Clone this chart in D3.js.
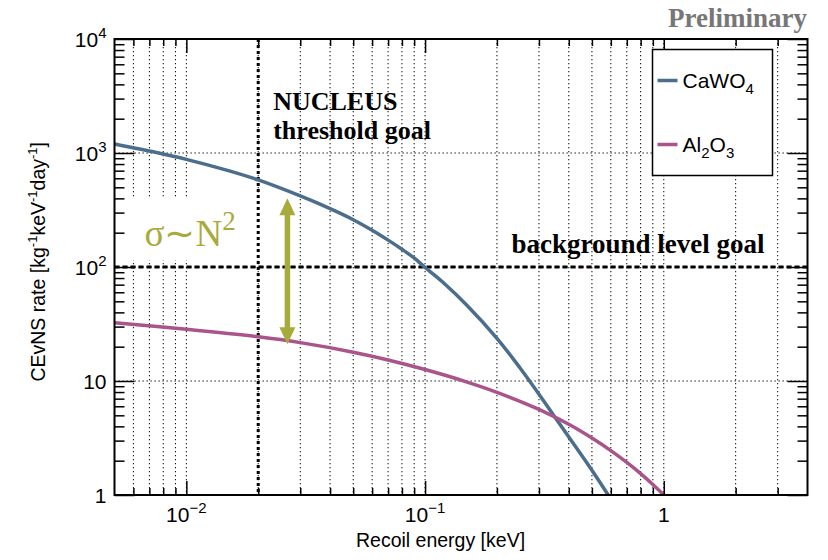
<!DOCTYPE html>
<html>
<head>
<meta charset="utf-8">
<script src="https://cdn.jsdelivr.net/npm/d3@7"></script>
<style>
  body { margin: 0; background: #fff; }
  svg { display: block; }
  .sans { font-family: "Liberation Sans", Arial, Helvetica, sans-serif; }
  .serif { font-family: "Liberation Serif", "Times New Roman", serif; }
</style>
</head>
<body>
<div id="chart"></div>
<script>
// CEvNS rate vs recoil energy

const caEnergy = [0.005, 0.0075, 0.01, 0.015, 0.02, 0.03, 0.04, 0.05, 0.06, 0.07, 0.08, 0.09, 0.1, 0.12, 0.15, 0.2, 0.25, 0.3, 0.356, 0.4, 0.5, 0.585];
const caRate   = [1200, 1010, 880, 700, 580, 420, 325, 260, 210, 172, 143, 120, 99, 72, 46, 23.7, 13, 7.66, 4.58, 3.23, 1.65, 1];

const alEnergy = [0.005, 0.01, 0.02, 0.03, 0.05, 0.07, 0.1, 0.15, 0.2, 0.3, 0.4, 0.5, 0.6, 0.7, 0.8, 0.9, 1.0];
const alRate   = [32.4, 28.4, 24.4, 21.7, 17.9, 15.3, 12.6, 9.79, 7.96, 5.64, 4.17, 3.16, 2.45, 1.93, 1.54, 1.235, 1];

const thresholdGoal = 0.02;   // keV
const backgroundGoal = 100;   // counts / kg / keV / day
const arrowEnergy = 0.0265;
const arrowRange = [21, 400];

const xTicks = [{ v: 0.01, base: "10", exp: "\u22122" }, { v: 0.1, base: "10", exp: "\u22121" }, { v: 1, base: "1", exp: "" }];
const yTicks = [{ v: 1, base: "1", exp: "" }, { v: 10, base: "10", exp: "" }, { v: 100, base: "10", exp: "2" },
                { v: 1000, base: "10", exp: "3" }, { v: 10000, base: "10", exp: "4" }];

const series = [
    { name: "CaWO", sub: "4", x: caEnergy, y: caRate, color: "#4a6e8c" },
    { name: "Al", sub: "2", name2: "O", sub2: "3", x: alEnergy, y: alRate, color: "#a9548a" }
];

const W = 828, H = 560;
const margin = { top: 39, right: 20.5, bottom: 65, left: 114.5 };
const width = W - margin.left - margin.right;
const height = H - margin.top - margin.bottom;

const svg = d3.select("#chart").append("svg").attr("width", W).attr("height", H);
const g = svg.append("g").attr("transform", `translate(${margin.left},${margin.top})`);

const x = d3.scaleLog().domain([0.005, 4]).range([0, width]);
const y = d3.scaleLog().domain([1, 1e4]).range([height, 0]);

// minor / major tick positions
const xMinor = [], yMinor = [];
[0.001, 0.01, 0.1, 1].forEach(d => { for (let k = 2; k <= 9; k++) { const v = d * k; if (v > 0.005 && v < 4) xMinor.push(v); } });
[1, 10, 100, 1000].forEach(d => { for (let k = 2; k <= 9; k++) yMinor.push(d * k); });
const xMajor = xTicks.map(d => d.v);
const yMajor = yTicks.map(d => d.v);

// grid
const grid = g.append("g").attr("stroke", "#000").attr("stroke-width", 1).attr("stroke-dasharray", "1.3,2.7");
grid.selectAll(".gx").data(xMajor.concat(xMinor)).join("line")
    .attr("x1", d => x(d)).attr("x2", d => x(d)).attr("y1", 0).attr("y2", height);
grid.selectAll(".gy").data(yMajor.slice(1, -1)).join("line")
    .attr("x1", 0).attr("x2", width).attr("y1", d => y(d)).attr("y2", d => y(d));

// white pad behind the sigma label
g.append("rect").attr("x", 1).attr("y", 158).attr("width", 155).attr("height", 63).attr("fill", "#fff");

// goal lines
g.append("line").attr("x1", x(thresholdGoal)).attr("x2", x(thresholdGoal)).attr("y1", 0).attr("y2", height)
    .attr("stroke", "#000").attr("stroke-width", 3).attr("stroke-dasharray", "3,3");
g.append("line").attr("x1", 0).attr("x2", width).attr("y1", y(backgroundGoal)).attr("y2", y(backgroundGoal))
    .attr("stroke", "#000").attr("stroke-width", 3).attr("stroke-dasharray", "5,3");

// curves
g.append("clipPath").attr("id", "clip").append("rect").attr("width", width).attr("height", height);
const line = d3.line().x(d => x(d[0])).y(d => y(d[1])).curve(d3.curveCatmullRom.alpha(0.5));
series.forEach(s => {
    g.append("path").datum(s.x.map((v, i) => [v, s.y[i]]))
        .attr("clip-path", "url(#clip)")
        .attr("fill", "none").attr("stroke", s.color).attr("stroke-width", 3.5)
        .attr("d", line);
});

// double arrow
const olive = "#a7ab3b";
const ax = x(arrowEnergy), aTop = y(arrowRange[1]), aBot = y(arrowRange[0]);
const headH = 17, headW = 8;
g.append("line").attr("x1", ax).attr("x2", ax).attr("y1", aTop + headH - 2).attr("y2", aBot - headH + 2)
    .attr("stroke", olive).attr("stroke-width", 5.5);
g.append("path").attr("fill", olive)
    .attr("d", `M${ax},${aTop}L${ax + headW},${aTop + headH}L${ax - headW},${aTop + headH}Z`);
g.append("path").attr("fill", olive)
    .attr("d", `M${ax},${aBot}L${ax + headW},${aBot - headH}L${ax - headW},${aBot - headH}Z`);

// sigma label
const sig = g.append("text").attr("class", "serif").attr("x", 30).attr("y", 207)
    .attr("fill", olive).attr("font-size", 37);
sig.append("tspan").text("\u03c3\u223cN");
sig.append("tspan").attr("dy", -16).attr("font-size", 27).text("2");

// annotations
const ann = g.append("g").attr("class", "serif").attr("font-weight", "bold").attr("font-size", 26).attr("fill", "#000");
ann.append("text").attr("x", x(thresholdGoal) + 15).attr("y", 71).text("NUCLEUS");
ann.append("text").attr("x", x(thresholdGoal) + 15).attr("y", 100).text("threshold goal");
ann.append("text").attr("x", 397).attr("y", y(backgroundGoal) - 14).attr("font-size", 27).text("background level goal");

svg.append("text").attr("class", "serif").attr("font-weight", "bold").attr("font-size", 27)
    .attr("fill", "#777").attr("text-anchor", "end").attr("x", 807).attr("y", 26.5).text("Preliminary");

// axes (ticks only, ROOT style)
function ticks(axisFn, vals, size, transform) {
    g.append("g").attr("transform", transform)
        .call(axisFn.tickValues(vals).tickSize(size).tickFormat(""))
        .call(s => s.select(".domain").remove())
        .call(s => s.selectAll("line").attr("stroke", "#000").attr("stroke-width", 1.5));
}
ticks(d3.axisRight(y), yMajor, 20, "translate(0,0)");
ticks(d3.axisRight(y), yMinor, 10, "translate(0,0)");
ticks(d3.axisLeft(y), yMajor, 20, `translate(${width},0)`);
ticks(d3.axisLeft(y), yMinor, 10, `translate(${width},0)`);
ticks(d3.axisTop(x), xMajor, 14, `translate(0,${height})`);
ticks(d3.axisTop(x), xMinor, 7, `translate(0,${height})`);
ticks(d3.axisBottom(x), xMajor, 14, "translate(0,0)");
ticks(d3.axisBottom(x), xMinor, 7, "translate(0,0)");

g.append("rect").attr("width", width).attr("height", height)
    .attr("fill", "none").attr("stroke", "#000").attr("stroke-width", 2);

// tick labels
const ylab = g.append("g").attr("class", "sans").attr("font-size", 21).attr("fill", "#000");
yTicks.forEach(t => {
    const txt = ylab.append("text").attr("x", -8).attr("y", y(t.v) + 8).attr("text-anchor", "end");
    txt.append("tspan").text(t.base);
    if (t.exp) txt.append("tspan").attr("dy", -9).attr("font-size", 15).text(t.exp);
});
const xlab = g.append("g").attr("class", "sans").attr("font-size", 21).attr("fill", "#000");
xTicks.forEach(t => {
    const txt = xlab.append("text").attr("x", x(t.v)).attr("y", height + 27).attr("text-anchor", "middle");
    txt.append("tspan").text(t.base);
    if (t.exp) txt.append("tspan").attr("dy", -9).attr("font-size", 15).text(t.exp);
});

// axis titles
g.append("text").attr("class", "sans").attr("font-size", 19.5).attr("text-anchor", "end")
    .attr("x", x(0.1) + 100).attr("y", height + 52).text("Recoil energy [keV]");

const yt = g.append("text").attr("class", "sans").attr("font-size", 19.5).attr("text-anchor", "end")
    .attr("transform", `translate(${45 - margin.left},${142 - margin.top}) rotate(-90)`);
yt.append("tspan").text("CEvNS rate [kg");
yt.append("tspan").attr("dy", -8).attr("font-size", 13).text("-1");
yt.append("tspan").attr("dy", 8).text("keV");
yt.append("tspan").attr("dy", -8).attr("font-size", 13).text("-1");
yt.append("tspan").attr("dy", 8).text("day");
yt.append("tspan").attr("dy", -8).attr("font-size", 13).text("-1");
yt.append("tspan").attr("dy", 8).text("]");

// legend
const lg = svg.append("g").attr("transform", "translate(652.5,49.5)");
lg.append("rect").attr("width", 120).attr("height", 126).attr("fill", "#fff")
    .attr("stroke", "#000").attr("stroke-width", 1.5);
series.forEach((s, i) => {
    const yy = 31 + i * 64;
    lg.append("line").attr("x1", 5).attr("x2", 25).attr("y1", yy).attr("y2", yy)
        .attr("stroke", s.color).attr("stroke-width", 3.5);
    const t = lg.append("text").attr("class", "sans").attr("font-size", 21).attr("x", 30).attr("y", yy + 7.5);
    t.append("tspan").text(s.name);
    t.append("tspan").attr("dy", 6).attr("font-size", 15).text(s.sub);
    if (s.name2) {
        t.append("tspan").attr("dy", -6).text(s.name2);
        t.append("tspan").attr("dy", 6).attr("font-size", 15).text(s.sub2);
    }
});
</script>
</body>
</html>
